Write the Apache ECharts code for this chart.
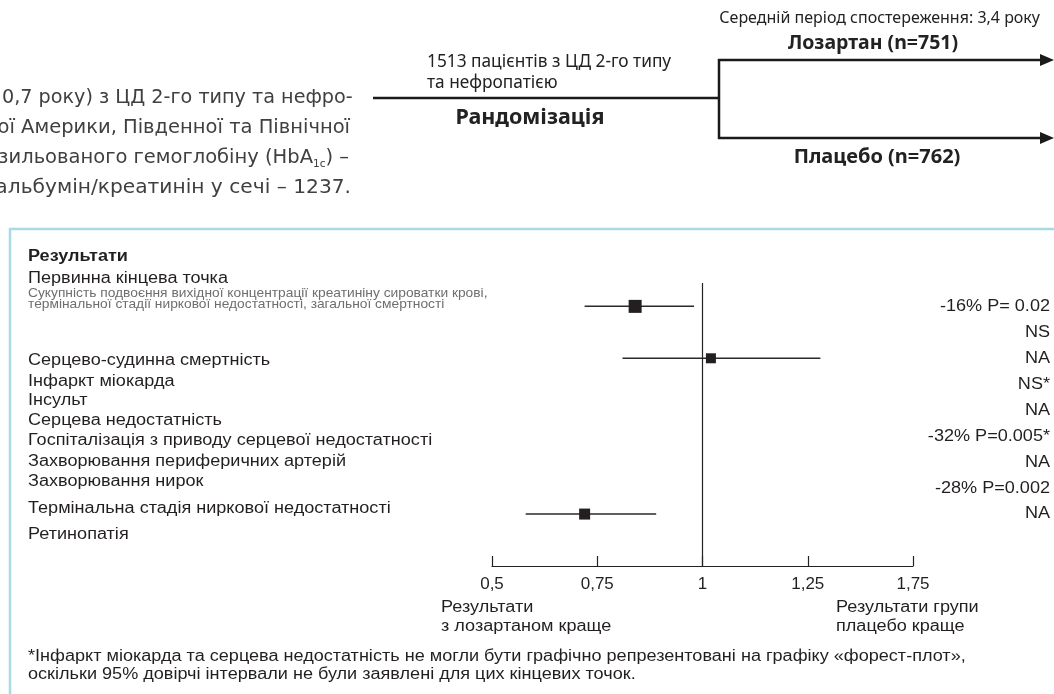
<!DOCTYPE html>
<html><head><meta charset="utf-8">
<script src="https://cdn.jsdelivr.net/npm/echarts@6/dist/echarts.min.js"></script>
<style>html,body{margin:0;padding:0;background:#fff}#c{width:1054px;height:694px}</style>
</head><body><div id="c"></div>
<script>
// ---- data ----
const tickValues = [0.5, 0.75, 1, 1.25, 1.5];
const tickLabels = ['0,5', '0,75', '1', '1,25', '1,75'];

const outcomeNames = [
  'Серцево-судинна смертність',
  'Інфаркт міокарда',
  'Інсульт',
  'Серцева недостатність',
  'Госпіталізація з приводу серцевої недостатності',
  'Захворювання периферичних артерій',
  'Захворювання нирок',
  'Термінальна стадія ниркової недостатності',
  'Ретинопатія'
];
const effectLabels = ['-16% P= 0.02', 'NS', 'NA', 'NS*', 'NA', '-32% P=0.005*', 'NA', '-28% P=0.002', 'NA'];

// hazard ratios with 95% CI, and the effect-column row each one sits on
const hrPoint = [0.84, 1.02, 0.72];
const hrLow   = [0.72, 0.81, 0.58];
const hrHigh  = [0.98, 1.28, 0.89];
const hrRow   = [0, 2, 8];

// ---- layout / style ----
const FOREST_FONT = "'Liberation Sans', Arial, Helvetica, sans-serif";
const TOP_FONT = "'Noto Sans', 'Open Sans', sans-serif";
const PARA_FONT = "'DejaVu Sans', 'Noto Sans', sans-serif";
const WIDE = 1.13;               // the results panel type is set slightly wide
const markerSize = [13, 10, 11];
const rowLabelY = [361, 382, 401, 421, 441, 462, 482, 509, 535];

function txt(x, y, text, opt, sx) {
  opt = opt || {};
  return {
    type: 'text', x: x, y: y, z: 10, silent: true, scaleX: sx || 1,
    style: Object.assign({
      text: text, fontFamily: FOREST_FONT, fontSize: 16, fill: '#231f20',
      align: 'left', verticalAlign: 'middle'
    }, opt)
  };
}
function seg(x1, y1, x2, y2, w, c) {
  return { type: 'line', silent: true, z: 5, shape: { x1, y1, x2, y2 }, style: { stroke: c || '#1a1a1a', lineWidth: w || 2.5 } };
}
function arrowHead(xTip, y) {
  return { type: 'polygon', silent: true, z: 5, shape: { points: [[xTip, y], [xTip - 14, y - 6], [xTip - 14, y + 6]] }, style: { fill: '#1a1a1a' } };
}

const graphics = [];

// study description paragraph (left, running off the page edge)
const paraStyle = { fontFamily: PARA_FONT, fontSize: 19.5, fill: '#404040', align: 'right' };
graphics.push(txt(2, 98, '0,7 року) з ЦД 2-го типу та нефро-', Object.assign({}, paraStyle, { align: 'left', fontSize: 19.2 })));
graphics.push(txt(350, 128, 'ої Америки, Південної та Північної', paraStyle));
graphics.push({
  type: 'text', x: 349, y: 158, z: 10, silent: true,
  style: {
    text: 'козильованого гемоглобіну (HbA{sub|1c}) –',
    fontFamily: PARA_FONT, fontSize: 19.5, fill: '#404040', align: 'right', verticalAlign: 'middle',
    rich: { sub: { fontFamily: PARA_FONT, fontSize: 10.5, fill: '#404040', padding: [13, 0, 0, 0] } }
  }
});
graphics.push(txt(351, 188, 'альбумін/креатинін у сечі – 1237.', Object.assign({}, paraStyle, { fontSize: 20.2 })));

// trial design diagram
graphics.push(seg(373, 98, 719, 98));
graphics.push(seg(719, 59, 719, 139));
graphics.push(seg(718, 60, 1042, 60));
graphics.push(seg(718, 138, 1042, 138));
graphics.push(arrowHead(1054, 60));
graphics.push(arrowHead(1054, 138));
graphics.push(txt(1040, 18, 'Середній період спостереження: 3,4 року', { fontFamily: TOP_FONT, fontSize: 16, align: 'right', fill: '#222' }));
graphics.push(txt(873, 43, 'Лозартан (n=751)', { fontFamily: TOP_FONT, fontSize: 19.5, fontWeight: 'bold', align: 'center', fill: '#222' }));
graphics.push(txt(427, 62, '1513 пацієнтів з ЦД 2-го типу', { fontFamily: TOP_FONT, fontSize: 17.3, fill: '#222' }));
graphics.push(txt(427, 83, 'та нефропатією', { fontFamily: TOP_FONT, fontSize: 17.3, fill: '#222' }));
graphics.push(txt(530, 118, 'Рандомізація', { fontFamily: TOP_FONT, fontSize: 21.5, fontWeight: 'bold', align: 'center', fill: '#222' }));
graphics.push(txt(877, 157, 'Плацебо (n=762)', { fontFamily: TOP_FONT, fontSize: 20, fontWeight: 'bold', align: 'center', fill: '#222' }));

// results panel frame
graphics.push({ type: 'rect', silent: true, z: 1, shape: { x: 10, y: 229, width: 1100, height: 600 }, style: { fill: 'none', stroke: '#a9dbe5', lineWidth: 2.5 } });

graphics.push(txt(28, 257, 'Результати', { fontWeight: 'bold' }, WIDE));
graphics.push(txt(28, 279, 'Первинна кінцева точка', {}, WIDE));
graphics.push(txt(28, 294, 'Сукупність подвоєння вихідної концентрації креатиніну сироватки крові,', { fontSize: 12.2, fill: '#6d6e70' }, WIDE));
graphics.push(txt(28, 305, 'термінальної стадії ниркової недостатності, загальної смертності', { fontSize: 12.2, fill: '#6d6e70' }, WIDE));
outcomeNames.forEach(function (name, i) { graphics.push(txt(28, rowLabelY[i], name, {}, WIDE)); });

// axis captions
graphics.push(txt(441, 608, 'Результати', {}, WIDE));
graphics.push(txt(441, 627, 'з лозартаном краще', {}, WIDE));
graphics.push(txt(836, 608, 'Результати групи', {}, WIDE));
graphics.push(txt(836, 627, 'плацебо краще', {}, WIDE));

// footnote
graphics.push(txt(28, 657, '*Інфаркт міокарда та серцева недостатність не могли бути графічно репрезентовані на графіку «форест-плот»,', {}, WIDE));
graphics.push(txt(28, 675, 'оскільки 95% довірчі інтервали не були заявлені для цих кінцевих точок.', {}, WIDE));

const chart = echarts.init(document.getElementById('c'), null, { renderer: 'canvas' });
chart.setOption({
  backgroundColor: '#fff',
  animation: false,
  graphic: graphics,
  grid: { left: 492, right: 141, top: 283, bottom: 128 },
  xAxis: {
    type: 'value', position: 'bottom', min: 0.5, max: 1.5, interval: 0.25,
    axisLine: { show: true, onZero: false, lineStyle: { color: '#222', width: 1.2 } },
    axisTick: { show: true, inside: true, length: 10, lineStyle: { color: '#222', width: 1.2 } },
    splitLine: { show: false },
    axisLabel: {
      fontFamily: FOREST_FONT, fontSize: 17, color: '#231f20', margin: 10,
      formatter: function (v) {
        const i = tickValues.findIndex(function (t) { return Math.abs(t - v) < 1e-6; });
        return i >= 0 ? tickLabels[i] : '';
      }
    }
  },
  yAxis: { type: 'value', inverse: true, min: -0.9, max: 10, show: false },
  series: [
    {
      type: 'custom', clip: false,
      data: hrPoint.map(function (p, i) { return [p, hrLow[i], hrHigh[i], hrRow[i]]; }),
      renderItem: function (params, api) {
        const row = api.value(3);
        const lo = api.coord([api.value(1), row]);
        const hi = api.coord([api.value(2), row]);
        const c = api.coord([api.value(0), row]);
        const s = markerSize[params.dataIndex];
        return {
          type: 'group', children: [
            { type: 'line', shape: { x1: lo[0], y1: lo[1], x2: hi[0], y2: hi[1] }, style: { stroke: '#2a2a2a', lineWidth: 1.5 } },
            { type: 'rect', shape: { x: c[0] - s / 2, y: c[1] - s / 2, width: s, height: s }, style: { fill: '#231f20' } }
          ]
        };
      },
      markLine: {
        silent: true, symbol: 'none', label: { show: false },
        lineStyle: { color: '#222', width: 1.2, type: 'solid' },
        data: [{ xAxis: 1 }]
      }
    },
    {
      type: 'custom', clip: false,
      data: effectLabels.map(function (t, i) { return [1, i]; }),
      renderItem: function (params, api) {
        const p = api.coord([1, api.value(1)]);
        return {
          type: 'text', x: 1050, y: p[1], scaleX: WIDE,
          style: { text: effectLabels[params.dataIndex], fontFamily: FOREST_FONT, fontSize: 16, fill: '#231f20', align: 'right', verticalAlign: 'middle' }
        };
      }
    }
  ]
});
</script></body></html>
